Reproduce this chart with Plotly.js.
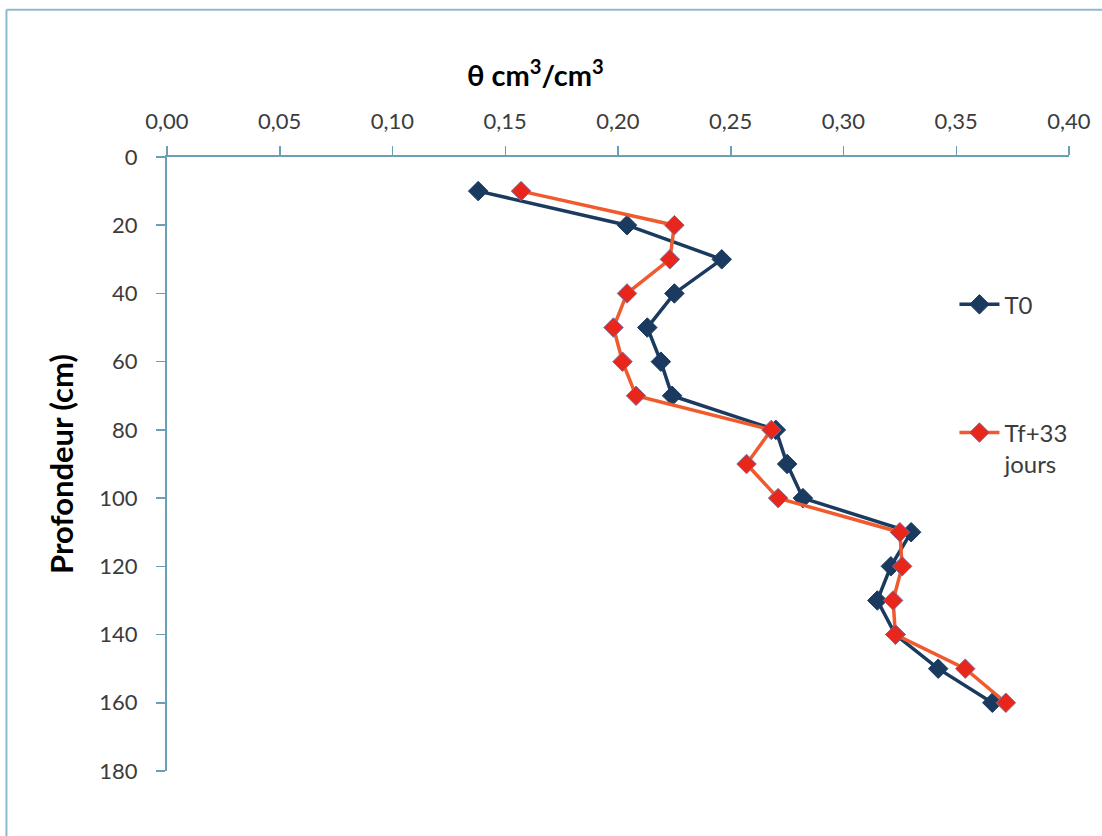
<!DOCTYPE html>
<html>
<head>
<meta charset="utf-8">
<script src="https://cdn.plot.ly/plotly-3.0.1.min.js"></script>
<style>html,body{margin:0;padding:0;background:#fff;}#chart{width:1102px;height:836px;}</style>
</head>
<body>
<div id="chart"></div>
<script>
const depth = [10, 20, 30, 40, 50, 60, 70, 80, 90, 100, 110, 120, 130, 140, 150, 160];
const thetaT0 = [0.138, 0.204, 0.246, 0.225, 0.213, 0.219, 0.224, 0.270, 0.275, 0.282, 0.330, 0.321, 0.315, 0.323, 0.342, 0.366];
const thetaTf = [0.157, 0.225, 0.223, 0.204, 0.198, 0.202, 0.208, 0.268, 0.257, 0.271, 0.325, 0.326, 0.322, 0.323, 0.354, 0.372];
const seriesNames = ["T0", "Tf+33<br>jours"];
const xTitle = "θ cm<sup>3</sup>/cm<sup>3</sup>";
const yTitle = "Profondeur (cm)";

const font = "Lato, 'Open Sans', sans-serif";
const axisColor = "#6b9fb6";
const tickFontColor = "#3c3c3c";

const traces = [
  {
    x: thetaT0, y: depth, name: seriesNames[0], mode: "lines+markers", type: "scatter",
    legendgroup: "a",
    line: {color: "#1b3a5f", width: 3.5},
    marker: {symbol: "diamond", size: 15, color: "#1b3a5f", line: {color: "#1b3a5f", width: 1}}
  },
  {
    x: thetaTf, y: depth, name: seriesNames[1], mode: "lines+markers", type: "scatter",
    legendgroup: "b",
    line: {color: "#f05a2c", width: 3.5},
    marker: {symbol: "diamond", size: 15, color: "#e8261c", line: {color: "#7d6e9c", width: 1}}
  }
];

const layout = {
  width: 1102, height: 836,
  margin: {l: 167, r: 33, t: 157, b: 65},
  paper_bgcolor: "#ffffff", plot_bgcolor: "#ffffff",
  separators: ", ",
  font: {family: font, size: 22, color: tickFontColor},
  xaxis: {
    side: "top", range: [0, 0.4], dtick: 0.05, tick0: 0, tickformat: ".2f",
    showgrid: false, zeroline: false, showline: true, linecolor: axisColor, linewidth: 2,
    ticks: "outside", ticklen: 9, tickcolor: axisColor, tickwidth: 1.5,
    ticklabelstandoff: 8,
    tickfont: {family: font, size: 22, color: tickFontColor}, fixedrange: true
  },
  yaxis: {
    range: [180, 0], dtick: 20, tick0: 0,
    showgrid: false, zeroline: false, showline: true, linecolor: axisColor, linewidth: 2,
    ticks: "outside", ticklen: 9, tickcolor: axisColor, tickwidth: 1.5,
    ticklabelstandoff: 14,
    tickfont: {family: font, size: 22, color: tickFontColor},
    title: {text: yTitle, font: {family: font, size: 31, color: "#000000", weight: "bold"}, standoff: 16},
    fixedrange: true
  },
  showlegend: true,
  legend: {
    x: 0.873, y: 0.796, xanchor: "left", yanchor: "top",
    bgcolor: "rgba(0,0,0,0)", borderwidth: 0,
    font: {family: font, size: 24, color: tickFontColor},
    traceorder: "grouped", tracegroupgap: 94, valign: "top", itemwidth: 40
  },
  annotations: [
    {
      text: xTitle, xref: "paper", yref: "paper", x: 0.408, y: 1.137,
      xanchor: "center", yanchor: "middle", showarrow: false,
      font: {family: font, size: 29, color: "#000000", weight: "bold"}
    }
  ],
  shapes: [
    {type: "line", xref: "paper", yref: "paper", x0: -0.178, x1: 1.1, y0: 1.24, y1: 1.24, line: {color: "#8fb9cc", width: 2}},
    {type: "line", xref: "paper", yref: "paper", x0: -0.178, x1: -0.178, y0: 1.24, y1: -0.2, line: {color: "#8fb9cc", width: 2}}
  ]
};

Plotly.newPlot("chart", traces, layout, {displayModeBar: false, staticPlot: true});
</script>
</body>
</html>
